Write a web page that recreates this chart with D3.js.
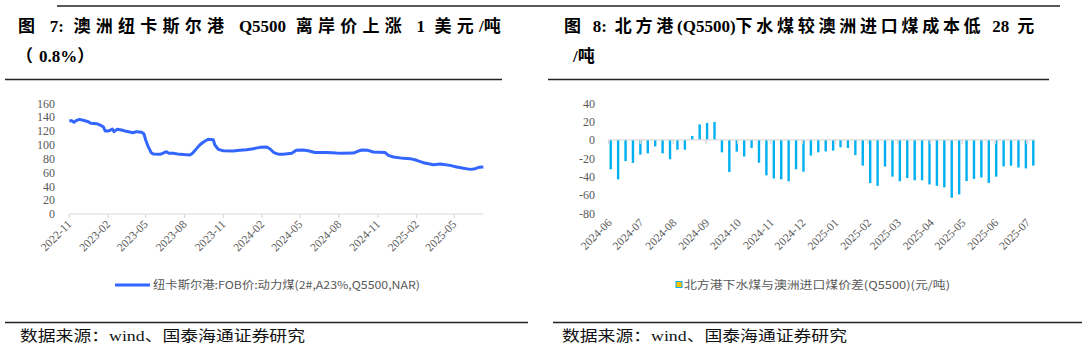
<!DOCTYPE html>
<html><head><meta charset="utf-8">
<script src="https://cdn.jsdelivr.net/npm/d3@7/dist/d3.min.js"></script>
<style>body{margin:0;background:#fff}svg{display:block}</style>
</head><body>
<svg id="c" width="1092" height="352"></svg>
<script>
// ---------- DATA ----------
const lineDates = ["2022-11-01","2022-11-06","2022-11-12","2022-11-17","2022-11-25","2022-12-04","2022-12-16","2022-12-22","2023-01-05","2023-01-13","2023-01-21","2023-01-25","2023-01-31","2023-02-06","2023-02-11","2023-02-15","2023-02-22","2023-03-05","2023-03-16","2023-04-01","2023-04-09","2023-04-22","2023-04-27","2023-05-01","2023-05-07","2023-05-14","2023-05-19","2023-06-04","2023-06-10","2023-06-19","2023-06-25","2023-07-05","2023-07-21","2023-08-14","2023-08-20","2023-08-28","2023-09-06","2023-09-16","2023-09-26","2023-10-08","2023-10-12","2023-10-20","2023-11-01","2023-11-24","2023-12-10","2023-12-26","2024-01-11","2024-01-27","2024-02-12","2024-02-20","2024-02-29","2024-03-10","2024-03-22","2024-04-11","2024-04-22","2024-05-08","2024-05-20","2024-06-05","2024-07-03","2024-07-26","2024-08-07","2024-09-04","2024-09-16","2024-09-24","2024-10-09","2024-10-21","2024-11-18","2024-11-26","2024-12-08","2025-01-01","2025-01-17","2025-02-01","2025-02-17","2025-03-13","2025-03-29","2025-04-21","2025-05-07","2025-05-23","2025-06-08","2025-06-20","2025-06-28","2025-07-09"];
const lineValues = [134.4,135,132.5,135,136.8,135.4,133.4,131,130.5,128.6,125.7,120,120,121,122.8,119,122.4,121.4,119.5,117.5,119,118,115.6,107,97.3,88.6,86.7,86.2,87.7,90,87.7,87.7,86.2,85.3,87.7,93.4,99.7,104.5,108,107.4,99.7,93.4,91.5,91,92,93,94.4,96.3,96.8,94,88.6,86.5,86.5,87.7,92,92.5,91.5,89,89,88,87.7,88,91,92.5,92,89.6,89,84.8,82.4,80.4,80,77.6,74.2,71.3,72.3,70.3,68,66,64.5,65.5,67.4,68];
const lineTicks = ["2022-11-01","2023-02-01","2023-05-01","2023-08-01","2023-11-01","2024-02-01","2024-05-01","2024-08-01","2024-11-01","2025-02-01","2025-05-01"];
const lineYTicks = [0,20,40,60,80,100,120,140,160];
const lineSeriesName = "纽卡斯尔港:FOB价:动力煤(2#,A23%,Q5500,NAR)";

const barDates = ["2024-06-03","2024-06-10","2024-06-17","2024-06-24","2024-07-01","2024-07-08","2024-07-15","2024-07-22","2024-07-29","2024-08-05","2024-08-12","2024-08-19","2024-08-26","2024-09-02","2024-09-09","2024-09-16","2024-09-23","2024-09-30","2024-10-07","2024-10-14","2024-10-21","2024-10-28","2024-11-04","2024-11-11","2024-11-18","2024-11-25","2024-12-02","2024-12-09","2024-12-16","2024-12-23","2024-12-30","2025-01-06","2025-01-13","2025-01-20","2025-01-27","2025-02-03","2025-02-10","2025-02-17","2025-02-24","2025-03-03","2025-03-10","2025-03-17","2025-03-24","2025-03-31","2025-04-07","2025-04-14","2025-04-21","2025-04-28","2025-05-05","2025-05-12","2025-05-19","2025-05-26","2025-06-02","2025-06-09","2025-06-16","2025-06-23","2025-06-30","2025-07-07"];
const barValues = [-32,-43,-23,-25,-16,-14.6,-7,-14.6,-21,-10.6,-10.6,4.4,17,18.6,19.7,-13.5,-35,-12.7,-18,-8.7,-24.8,-38.6,-42,-43,-45,-32,-34.6,-17,-13.5,-12.5,-11.6,-8,-8.7,-16.5,-28,-47,-50,-29,-40,-45,-41.5,-44,-44,-48.5,-50,-51.7,-63,-59.4,-44.8,-42.5,-41,-46.8,-40,-28.8,-28,-30,-31,-28];
const barTicks = ["2024-06-01","2024-07-01","2024-08-01","2024-09-01","2024-10-01","2024-11-01","2024-12-01","2025-01-01","2025-02-01","2025-03-01","2025-04-01","2025-05-01","2025-06-01","2025-07-01"];
const barYTicks = [-80,-60,-40,-20,0,20,40];
const barSeriesName = "北方港下水煤与澳洲进口煤价差(Q5500)(元/吨)";

const title1 = ["图 7: 澳洲纽卡斯尔港 Q5500 离岸价上涨 1 美元/吨", "（0.8%）"];
const title2 = ["图 8: 北方港(Q5500)下水煤较澳洲进口煤成本低 28 元", "/吨"];
const sourceText = "数据来源：wind、国泰海通证券研究";

// ---------- DRAW ----------
const parse = d3.timeParse("%Y-%m-%d");
const fmt = d3.timeFormat("%Y-%m");
const svg = d3.select("#c");
const serif = "'Liberation Serif','Times New Roman','Noto Sans CJK SC',serif";
const cjk = "'Noto Sans CJK SC','Liberation Sans',sans-serif";
const axisGray = "#d9d9d9", labelGray = "#595959";

// rules
svg.append("line").attr("x1",57).attr("x2",1060).attr("y1",6).attr("y2",6).attr("stroke","#222").attr("stroke-width",1.5);
[[5,502],[548,1049]].forEach(([a,b])=>svg.append("line").attr("x1",a).attr("x2",b).attr("y1",79.5).attr("y2",79.5).attr("stroke","#222").attr("stroke-width",1.3));
[[5,528],[553,1082]].forEach(([a,b])=>svg.append("line").attr("x1",a).attr("x2",b).attr("y1",322.5).attr("y2",322.5).attr("stroke","#222").attr("stroke-width",1.5));

// titles: CJK chars and spaces get extra letter-spacing so the line fits the target width
const isSpaced = ch => /[\u3000-\u9fff\uff00-\uffef ]/.test(ch);
function titleLine(str, x, y, target){
  const t = svg.append("text").attr("x",x).attr("y",y).attr("font-family",serif).attr("font-weight","bold").attr("font-size",17);
  const runs = [];
  for (const ch of str){
    const c = isSpaced(ch);
    if (runs.length && runs[runs.length-1].c===c) runs[runs.length-1].s += ch; else runs.push({c, s:ch});
  }
  const spans = runs.map(r=>t.append("tspan").text(r.s).datum(r));
  const w = t.node().getComputedTextLength();
  const n = [...str].filter(isSpaced).length;
  const ls = Math.max(0,(target - w)/n);
  spans.forEach(s=>{ if (s.datum().c) s.attr("letter-spacing", ls); });
}
titleLine(title1[0], 18, 32, 488);
titleLine(title1[1], 16, 62, 84);
titleLine(title2[0], 564, 32, 474);
titleLine(title2[1], 573, 62, 28);

// sources
[20, 562].forEach(x=>svg.append("text").attr("x",x).attr("y",341).attr("font-family",serif).attr("font-size",15)
  .attr("textLength",285).attr("lengthAdjust","spacingAndGlyphs").attr("fill","#111").text(sourceText));

// ---------- Chart 1: line ----------
const x1 = d3.scaleTime().domain([parse("2022-11-01"), parse("2025-07-09")]).range([69.3, 483.3]);
const y1 = d3.scaleLinear().domain([0,160]).range([214,103.3]);
const g1 = svg.append("g");
g1.append("line").attr("x1",x1.range()[0]).attr("x2",x1.range()[1]).attr("y1",y1(0)).attr("y2",y1(0)).attr("stroke",axisGray).attr("stroke-width",1.2);
lineTicks.forEach(t=>{
  const xx = x1(parse(t));
  g1.append("line").attr("x1",xx).attr("x2",xx).attr("y1",y1(0)).attr("y2",y1(0)+4).attr("stroke",axisGray).attr("stroke-width",1.2);
  g1.append("text").attr("transform",`translate(${xx+3},${y1(0)+11}) rotate(-45)`).attr("text-anchor","end")
    .attr("font-family",serif).attr("font-size",11.5).attr("fill",labelGray).text(fmt(parse(t)));
});
lineYTicks.forEach(v=>{
  g1.append("text").attr("x",55).attr("y",y1(v)).attr("dy","0.35em").attr("text-anchor","end")
    .attr("font-family",serif).attr("font-size",12).attr("fill",labelGray).text(v);
});
const lineData = lineDates.map((d,i)=>({d:parse(d), v:lineValues[i]}));
g1.append("path").datum(lineData).attr("fill","none").attr("stroke","#3366FF").attr("stroke-width",3).attr("stroke-linejoin","round")
  .attr("d", d3.line().x(p=>x1(p.d)).y(p=>y1(p.v)));
// legend
g1.append("line").attr("x1",115).attr("x2",150).attr("y1",285).attr("y2",285).attr("stroke","#3366FF").attr("stroke-width",3);
g1.append("text").attr("x",153).attr("y",289).attr("font-family",cjk).attr("font-size",11).attr("fill",labelGray)
  .attr("textLength",267).attr("lengthAdjust","spacingAndGlyphs").text(lineSeriesName);

// ---------- Chart 2: bars ----------
const x2 = d3.scaleTime().domain([parse("2024-06-01"), parse("2025-07-09")]).range([608.6, 1035.4]);
const y2 = d3.scaleLinear().domain([-80,40]).range([213.3,103.3]);
const g2 = svg.append("g");
barYTicks.forEach(v=>{
  g2.append("text").attr("x",595).attr("y",y2(v)).attr("dy","0.35em").attr("text-anchor","end")
    .attr("font-family",serif).attr("font-size",12).attr("fill",labelGray).text(v);
});
const bw = 2.4;
g2.selectAll("rect.b").data(barDates.map((d,i)=>({d:parse(d), v:barValues[i]}))).enter().append("rect")
  .attr("x",p=>x2(p.d)-bw/2).attr("width",bw)
  .attr("y",p=>Math.min(y2(p.v),y2(0))).attr("height",p=>Math.abs(y2(p.v)-y2(0)))
  .attr("fill","#00B0F0");
g2.append("line").attr("x1",x2.range()[0]).attr("x2",x2.range()[1]).attr("y1",y2(0)).attr("y2",y2(0)).attr("stroke",axisGray).attr("stroke-width",1.2);
barTicks.forEach(t=>{
  const xx = x2(parse(t));
  g2.append("line").attr("x1",xx).attr("x2",xx).attr("y1",y2(0)).attr("y2",y2(0)+4).attr("stroke",axisGray).attr("stroke-width",1.5);
  g2.append("text").attr("transform",`translate(${xx+4},${y2(-80)+10}) rotate(-45)`).attr("text-anchor","end")
    .attr("font-family",serif).attr("font-size",11.5).attr("fill",labelGray).text(fmt(parse(t)));
});
// legend
g2.append("rect").attr("x",676).attr("y",281.5).attr("width",6).attr("height",6).attr("fill","#FFC000").attr("stroke","#00B0F0").attr("stroke-width",1);
g2.append("text").attr("x",684).attr("y",289).attr("font-family",cjk).attr("font-size",11).attr("fill",labelGray)
  .attr("textLength",266).attr("lengthAdjust","spacingAndGlyphs").text(barSeriesName);
</script>
</body></html>
